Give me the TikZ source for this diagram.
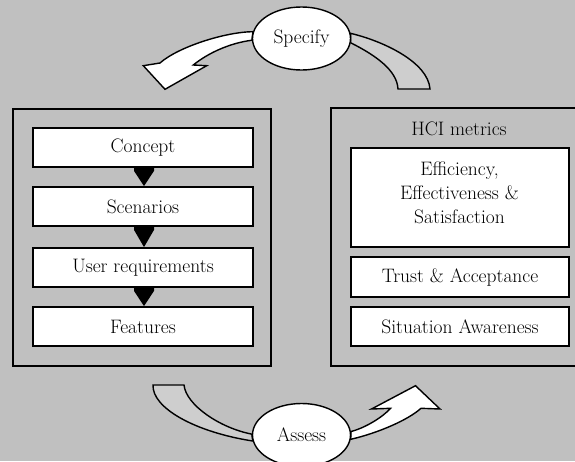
\documentclass[tikz,border=0pt]{standalone}
\usetikzlibrary{shapes.geometric,calc}
\definecolor{canvas}{RGB}{192,192,192}
\definecolor{returnfill}{RGB}{206,206,206}
\pgfdeclarelayer{backdrop}
\pgfdeclarelayer{ribbons}
\pgfsetlayers{backdrop,ribbons,main}

\begin{document}
\begin{tikzpicture}[x=1pt,y=-1pt,
  font=\fontsize{19.5}{24}\selectfont,
  panel/.style={draw, line width=1.5pt, rectangle, inner sep=0pt},
  stagebox/.style={draw, line width=1.8pt, fill=white, minimum width=220pt,
    minimum height=39pt, inner sep=0pt},
  metricbox/.style={draw, line width=1.8pt, fill=white, minimum width=218pt,
    inner sep=0pt},
  phase/.style={draw, ellipse, line width=1.4pt, fill=white,
    minimum width=98pt, minimum height=63pt, inner sep=0pt},
  forward/.style={draw, line width=1.4pt, fill=white, line join=miter},
  backward/.style={draw, line width=1.4pt, fill=returnfill, line join=miter},
  steptip/.style={fill=black}
]
\useasboundingbox (0,0) rectangle (575,461);
\begin{pgfonlayer}{backdrop}
  \fill[canvas] (0,0) rectangle (575,461);
\end{pgfonlayer}

% design panel
\node[panel, minimum width=258pt, minimum height=257pt] (design) at (142,237.5) {};
\node[stagebox] (concept)   at (143,147.5) {Concept};
\node[stagebox] (scenarios) at (143,206.5) {Scenarios};
\node[stagebox] (userreq)   at (143,267.5) {User requirements};
\node[stagebox] (features)  at (143,326.5) {Features};

\foreach \a/\b in {concept/scenarios, scenarios/userreq, userreq/features}
  \fill[steptip] ($(\a.south)+(-9,0)$) -- ($(\a.south)+(11,0)$)
    -- ($(\a.south)+(11,3)$) -- ($(\b.north)+(1,0)$)
    -- ($(\a.south)+(-9,3)$) -- cycle;

% metrics panel
\node[panel, minimum width=259pt, minimum height=258pt] (metrics) at (460.5,237) {};
\node (hci) at (459,129) {HCI metrics};
\node[metricbox, minimum height=99pt] (ees) at (460,197.5) {};
\node[align=center] (eestext) at (459.5,193)
  {Efficiency,\\Effectiveness \&\\Satisfaction};
\node[metricbox, minimum height=40pt] (trust) at (460,277) {Trust \& Acceptance};
\node[metricbox, minimum height=39pt] (sa) at (460,326.5) {Situation Awareness};

% cycle phases
\node[phase] (specify) at (301.5,38.5) {Specify};
\node[phase] (assess)  at (301.5,435)  {Assess};

\begin{pgfonlayer}{ribbons}
  % specify -> design
  \draw[forward] (specify.172) .. controls (225,32) and (178,47) .. (160,63)
    -- (143.3,65.7) -- (165,89.3) -- (206.7,65.7) -- (193.3,65)
    .. controls (208,53) and (230,43) .. (specify.182) -- cycle;
  % metrics -> specify
  \draw[backward] (specify.6) .. controls (383,41) and (428,62) .. (430,89)
    -- (398,89) .. controls (397,70) and (375,55) .. (specify.355) -- cycle;
  % design -> assess
  \draw[backward] (153,385) -- (184,385)
    .. controls (186,405) and (220,428) .. (assess.179)
    -- (assess.187) .. controls (195,432) and (152,408) .. (153,385) -- cycle;
  % assess -> metrics
  \draw[forward] (assess.355) .. controls (378,433) and (408,420) .. (421,408.3)
    -- (440,409) -- (415.5,385.7) -- (371.5,409) -- (390.5,408.3)
    .. controls (383,417) and (365,428) .. (assess.4) -- cycle;
\end{pgfonlayer}
\end{tikzpicture}
\end{document}
